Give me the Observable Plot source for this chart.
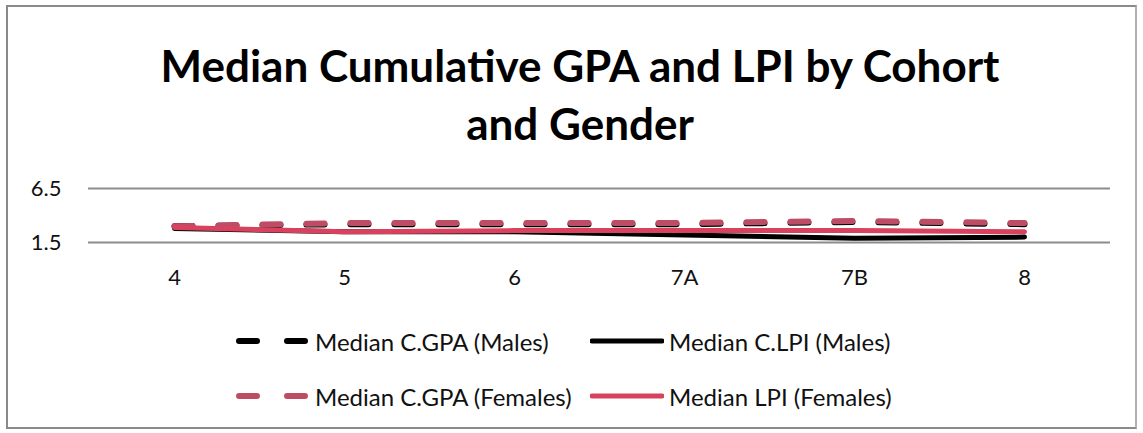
<!DOCTYPE html>
<html>
<head>
<meta charset="utf-8">
<script src="https://cdn.jsdelivr.net/npm/d3@7"></script>
<script src="https://cdn.jsdelivr.net/npm/@observablehq/plot@0.6"></script>
<style>
  html, body { margin: 0; padding: 0; background: #fff; }
  #frame { position: relative; width: 1143px; height: 433px; overflow: hidden; font-family: Lato, "Open Sans", sans-serif; }
  #border { position: absolute; left: 6px; top: 5px; width: 1131px; height: 424px; border: 2px solid #8a8a8a; border-right-color: #b0b0b0; box-sizing: border-box; }
  #title { position: absolute; left: 0; top: 36px; width: 1160px; text-align: center; font-weight: bold; font-size: 44px; line-height: 58px; color: #000; }
  #chart { position: absolute; left: 0; top: 170px; }
  .leg { position: absolute; display: flex; align-items: center; font-size: 24px; color: #111; white-space: nowrap; }
  .leg svg { display: block; margin-right: 5px; }
</style>
</head>
<body>
<div id="frame">
  <div id="border"></div>
  <div id="title">Median Cumulative GPA and LPI by Cohort<br>and Gender</div>
  <div id="chart"></div>
  <div id="legend"></div>
</div>
<script>
const cohorts = ["4", "5", "6", "7A", "7B", "8"];
const gpaMales = [3.0, 3.2, 3.2, 3.2, 3.4, 3.2];
const lpiMales = [2.8, 2.5, 2.5, 2.2, 1.9, 2.0];
const gpaFemales = [3.0, 3.3, 3.3, 3.3, 3.5, 3.3];
const lpiFemales = [2.9, 2.5, 2.6, 2.6, 2.6, 2.5];
const seriesNames = ["Median C.GPA (Males)", "Median C.LPI (Males)", "Median C.GPA (Females)", "Median LPI (Females)"];
const yTicks = [1.5, 6.5];

const seriesValues = [gpaMales, lpiMales, gpaFemales, lpiFemales];
const styles = [
  {stroke: "#000000", dash: "18,26", width: 6, cap: "round"},
  {stroke: "#000000", dash: null, width: 5, cap: "round"},
  {stroke: "#bd4d64", dash: "18,26", width: 6, cap: "round"},
  {stroke: "#d8425f", dash: null, width: 5, cap: "round"}
];

const lineMarks = seriesValues.map((vals, i) => {
  const rows = cohorts.map((c, j) => ({cohort: c, value: vals[j]}));
  const s = styles[i];
  const opts = {x: "cohort", y: "value", stroke: s.stroke, strokeWidth: s.width, strokeLinecap: s.cap, strokeLinejoin: "round"};
  if (s.dash) opts.strokeDasharray = s.dash;
  return Plot.line(rows, opts);
});

const chart = Plot.plot({
  width: 1143,
  height: 130,
  marginLeft: 88,
  marginRight: 33,
  marginTop: 18,
  marginBottom: 58,
  style: {fontFamily: "Lato, 'Open Sans', sans-serif", color: "#111", background: "transparent"},
  x: {type: "point", domain: cohorts, padding: 0.5, label: null},
  y: {domain: [1.5, 6.5], label: null},
  marks: [
    Plot.ruleY(yTicks, {stroke: "#8c8c8c", strokeWidth: 2}),
    Plot.axisY(yTicks, {tickSize: 0, tickPadding: 27, fontSize: 22, tickFormat: d => d.toFixed(1), label: null}),
    Plot.axisX({tickSize: 0, tickPadding: 27, fontSize: 22, label: null}),
    ...lineMarks
  ]
});
document.getElementById("chart").appendChild(chart);

// Legend
const legendPos = [
  {left: 236, top: 341},
  {left: 590, top: 341},
  {left: 236, top: 396},
  {left: 590, top: 396}
];
const legend = document.getElementById("legend");
seriesNames.forEach((name, i) => {
  const s = styles[i];
  const div = document.createElement("div");
  div.className = "leg";
  div.style.left = legendPos[i].left + "px";
  div.style.top = (legendPos[i].top - 15) + "px";
  div.style.height = "30px";
  const ns = "http://www.w3.org/2000/svg";
  const svg = document.createElementNS(ns, "svg");
  svg.setAttribute("width", 74);
  svg.setAttribute("height", 10);
  const path = document.createElementNS(ns, "line");
  path.setAttribute("x1", s.dash ? 3 : 2);
  path.setAttribute("x2", s.dash ? 71 : 72);
  path.setAttribute("y1", 5);
  path.setAttribute("y2", 5);
  path.setAttribute("stroke", s.stroke);
  path.setAttribute("stroke-width", s.width);
  path.setAttribute("stroke-linecap", "round");
  if (s.dash) path.setAttribute("stroke-dasharray", "18,30");
  svg.appendChild(path);
  div.appendChild(svg);
  const span = document.createElement("span");
  span.textContent = name;
  div.appendChild(span);
  legend.appendChild(div);
});
</script>
</body>
</html>
